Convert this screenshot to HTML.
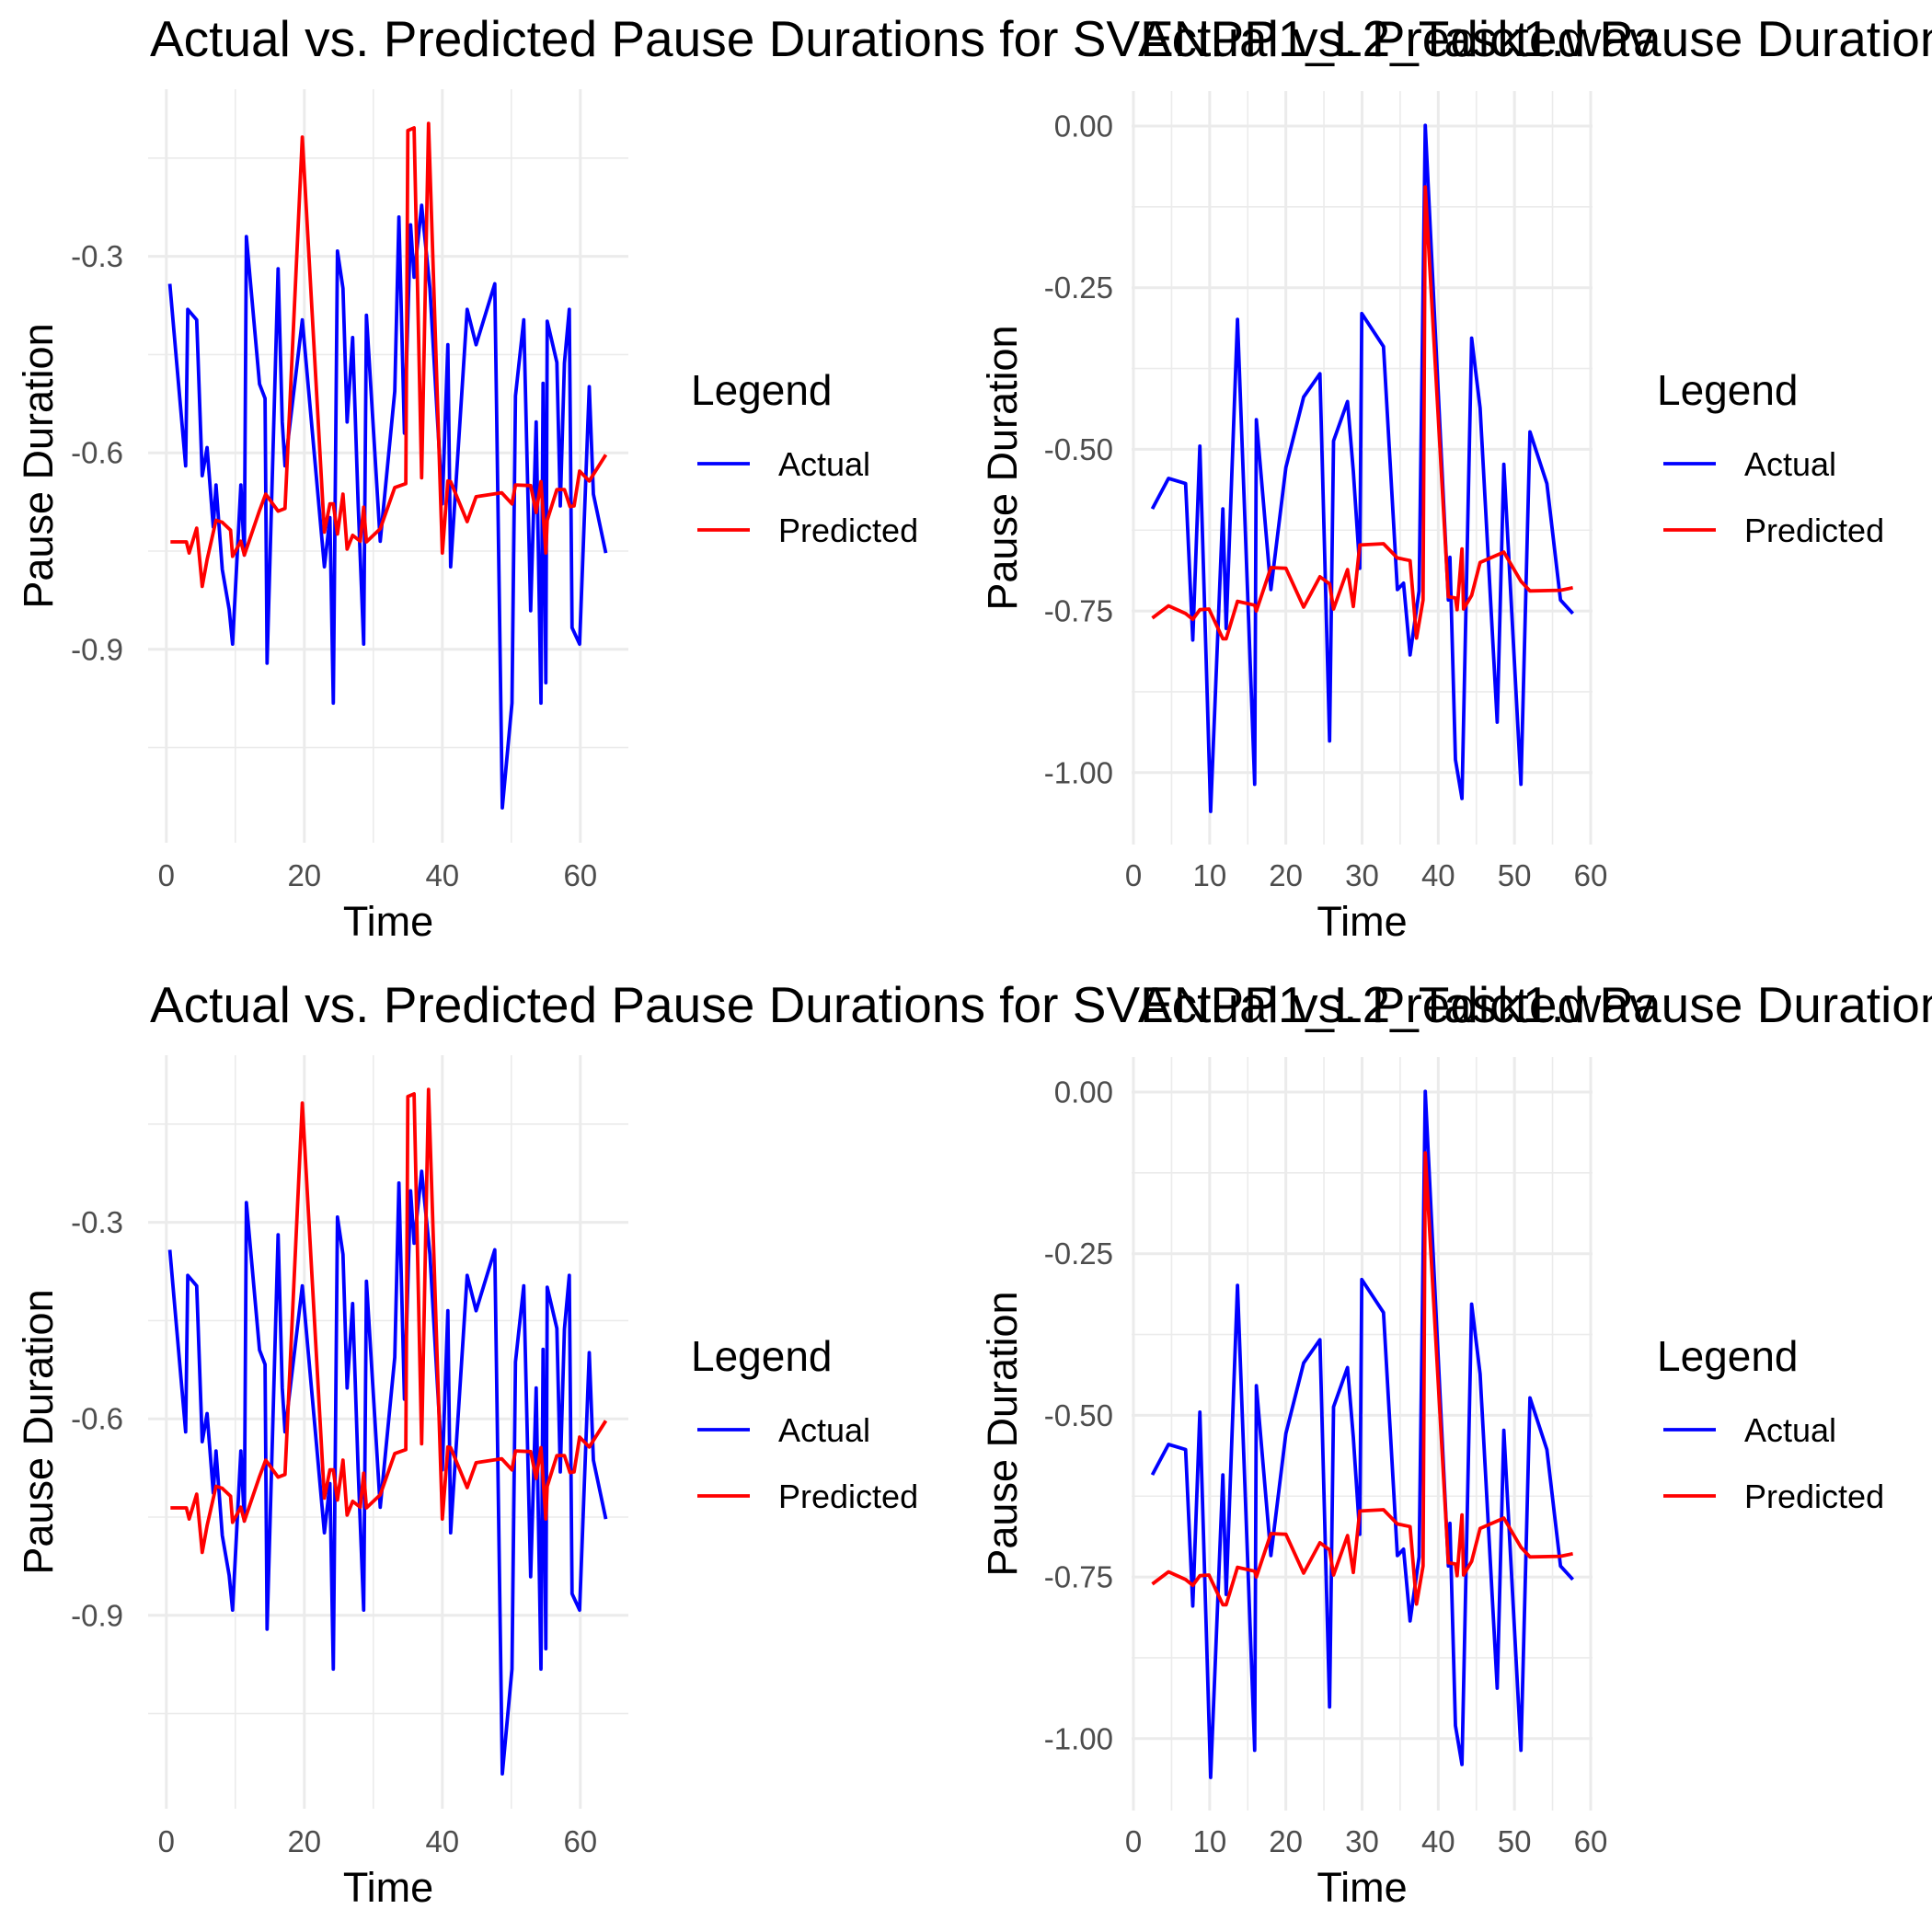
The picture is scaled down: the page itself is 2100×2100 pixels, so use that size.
<!DOCTYPE html>
<html><head><meta charset="utf-8"><style>
html,body{margin:0;padding:0;background:#fff;}
svg{display:block;font-family:"Liberation Sans",Arial,sans-serif;}
</style></head><body>
<svg id="chart" width="2100" height="2100" viewBox="0 0 2100 2100" xmlns="http://www.w3.org/2000/svg"></svg>
<script>
// ---- Data: left panels ----
const leftActualTime = [0.5,2.8,3.1,4.4,5.2,5.9,6.8,7.2,8.1,9.1,9.6,10.8,11.3,11.6,13.5,14.3,14.6,16.2,16.8,17.2,19.7,22.9,23.7,24.2,24.8,25.6,26.2,27.0,27.8,28.6,29.0,31.0,33.1,33.7,34.5,35.4,35.9,37.0,38.2,40.0,40.8,41.2,43.6,44.9,47.6,48.7,50.1,50.6,51.8,52.8,53.6,54.3,54.6,55.0,55.2,56.6,57.1,57.7,58.4,58.8,59.9,61.3,61.9,63.7];
const leftActualValues = [-0.342,-0.620,-0.381,-0.397,-0.635,-0.592,-0.713,-0.649,-0.778,-0.839,-0.892,-0.649,-0.756,-0.270,-0.495,-0.517,-0.921,-0.319,-0.553,-0.620,-0.397,-0.774,-0.699,-0.982,-0.292,-0.349,-0.553,-0.424,-0.678,-0.892,-0.390,-0.735,-0.506,-0.240,-0.570,-0.252,-0.332,-0.222,-0.349,-0.678,-0.435,-0.774,-0.381,-0.435,-0.342,-1.142,-0.982,-0.513,-0.397,-0.841,-0.553,-0.982,-0.494,-0.951,-0.399,-0.462,-0.681,-0.463,-0.381,-0.867,-0.892,-0.499,-0.663,-0.753];
const leftPredTime = [0.6,2.9,3.3,4.4,5.2,5.9,7.2,8.1,9.3,9.6,10.8,11.3,13.5,14.4,16.2,17.2,19.7,22.9,23.7,24.2,24.8,25.6,26.2,27.0,28.1,28.6,29.0,31.0,33.1,34.7,35.0,35.9,37.0,38.0,40.0,40.8,41.2,43.6,44.9,48.6,50.1,50.6,52.8,53.6,54.3,55.0,55.2,56.6,57.7,58.5,59.1,59.9,61.3,63.7];
const leftPredValues = [-0.736,-0.736,-0.753,-0.715,-0.804,-0.763,-0.703,-0.706,-0.718,-0.758,-0.735,-0.756,-0.688,-0.663,-0.689,-0.685,-0.118,-0.721,-0.678,-0.678,-0.724,-0.663,-0.747,-0.726,-0.735,-0.683,-0.736,-0.716,-0.653,-0.647,-0.108,-0.104,-0.638,-0.097,-0.753,-0.643,-0.644,-0.705,-0.667,-0.661,-0.678,-0.649,-0.650,-0.691,-0.644,-0.753,-0.703,-0.656,-0.656,-0.682,-0.681,-0.628,-0.643,-0.603];
const leftXTicks = [0,20,40,60];
const leftXMinor = [10,30,50];
const leftYTicks = [-0.3,-0.6,-0.9];
const leftYTickLabels = ["-0.3","-0.6","-0.9"];
const leftYMinor = [-0.15,-0.45,-0.75,-1.05];

// ---- Data: right panels ----
const rightActualTime = [2.47,4.6,6.85,7.79,8.72,10.13,11.74,12.17,13.66,15.91,16.13,18.04,20.0,22.34,24.47,25.74,26.26,28.09,28.85,29.7,29.96,32.81,34.64,35.45,36.3,37.49,38.3,41.32,41.53,42.26,43.11,44.38,45.49,47.74,48.6,50.85,52.04,54.26,56.04,57.66];
const rightActualValues = [-0.592,-0.545,-0.553,-0.795,-0.495,-1.060,-0.592,-0.777,-0.299,-1.018,-0.454,-0.717,-0.528,-0.419,-0.383,-0.951,-0.487,-0.426,-0.534,-0.684,-0.290,-0.341,-0.717,-0.707,-0.818,-0.719,0.001,-0.733,-0.667,-0.980,-1.040,-0.328,-0.436,-0.922,-0.523,-1.018,-0.473,-0.553,-0.733,-0.754];
const rightPredTime = [2.47,4.6,6.85,7.79,8.72,9.91,11.74,12.17,13.66,15.91,16.13,18.04,20.0,22.34,24.47,25.74,26.26,28.09,28.85,29.7,32.81,34.64,36.3,37.15,38.0,38.3,41.32,42.26,42.47,43.11,43.32,44.38,45.49,48.6,50.85,52.04,56.04,57.66];
const rightPredValues = [-0.761,-0.742,-0.754,-0.763,-0.748,-0.747,-0.793,-0.793,-0.735,-0.741,-0.750,-0.683,-0.684,-0.744,-0.697,-0.708,-0.747,-0.686,-0.743,-0.648,-0.646,-0.668,-0.672,-0.792,-0.733,-0.094,-0.728,-0.730,-0.748,-0.654,-0.747,-0.726,-0.675,-0.659,-0.704,-0.719,-0.718,-0.714];
const rightXTicks = [0,10,20,30,40,50,60];
const rightXMinor = [5,15,25,35,45,55];
const rightYTicks = [0,-0.25,-0.5,-0.75,-1.0];
const rightYTickLabels = ["0.00","-0.25","-0.50","-0.75","-1.00"];
const rightYMinor = [-0.125,-0.375,-0.625,-0.875];

const titleText = "Actual vs. Predicted Pause Durations for SVENPP1_L2_Task1.wav";

const NS = "http://www.w3.org/2000/svg";
const svg = document.getElementById('chart');
function mk(tag, attrs, parent){
  const e = document.createElementNS(NS, tag);
  for (const k in attrs) e.setAttribute(k, attrs[k]);
  (parent||svg).appendChild(e);
  return e;
}

function panel(cfg, dy, idx){
  const g = mk('g', {transform:'translate(0,'+dy+')'});
  
  
  const sx = v => cfg.x0 + (v - cfg.xv0) * cfg.xk;
  const sy = v => cfg.y0 + (cfg.yv0 - v) * cfg.yk;
  const grid = mk('g', {}, g);
  
  
  cfg.yMinor.forEach(v => { mk('line', {x1:cfg.pl, x2:cfg.pr, y1:sy(v), y2:sy(v), stroke:'#EBEBEB', 'stroke-width':1.6}, grid); });
  cfg.xMinor.forEach(v => { mk('line', {x1:sx(v), x2:sx(v), y1:cfg.pt, y2:cfg.pb, stroke:'#EBEBEB', 'stroke-width':1.6}, grid); });
  cfg.yTicks.forEach(v => { mk('line', {x1:cfg.pl, x2:cfg.pr, y1:sy(v), y2:sy(v), stroke:'#EBEBEB', 'stroke-width':3}, grid); });
  cfg.xTicks.forEach(v => { mk('line', {x1:sx(v), x2:sx(v), y1:cfg.pt, y2:cfg.pb, stroke:'#EBEBEB', 'stroke-width':3}, grid); });
  cfg.yTicks.forEach((v,i) => {
    const t = mk('text', {x:cfg.ylabX, y:sy(v)+11.5, 'text-anchor':'end', 'font-size':33, fill:'#4D4D4D'}, g);
    
    
    t.textContent = cfg.yLabels[i];
  });
  cfg.xTicks.forEach(v => {
    const t = mk('text', {x:sx(v), y:963, 'text-anchor':'middle', 'font-size':33, fill:'#4D4D4D'}, g);
    
    
    t.textContent = String(v);
  });
  const series = [[cfg.at, cfg.av, '#0000FF', 'actual-line'], [cfg.pt2, cfg.pv, '#FF0000', 'predicted-line']];
  series.forEach(s => {
    const d = s[0].map((t,i) => (i?'L':'M') + sx(t).toFixed(1) + ' ' + sy(s[1][i]).toFixed(1)).join(' ');
    const p = mk('path', {d:d, fill:'none', stroke:s[2], 'stroke-width':3.8, 'stroke-linejoin':'round'}, g);
    
    
  });
  const xt = mk('text', {x:(cfg.pl+cfg.pr)/2, y:1017, 'text-anchor':'middle', 'font-size':45, fill:'#000'}, g);
  
  
  xt.textContent = 'Time';
  const ytx = cfg.ytitleX, yty = (cfg.pt+cfg.pb)/2;
  const yt = mk('text', {x:ytx, y:yty, 'text-anchor':'middle', 'font-size':45, fill:'#000', transform:'rotate(-90 '+ytx+' '+yty+')'}, g);
  
  
  yt.textContent = 'Pause Duration';
  const lg = mk('g', {}, g);
  
  
  const lt = mk('text', {x:cfg.legX, y:440, 'font-size':46, fill:'#000'}, lg);
  
  
  lt.textContent = 'Legend';
  [['Actual','#0000FF',504],['Predicted','#FF0000',576]].forEach(e => {
    const ln = mk('line', {x1:cfg.legX+7, x2:cfg.legX+64, y1:e[2], y2:e[2], stroke:e[1], 'stroke-width':3.8}, lg);
    
    
    const tx = mk('text', {x:cfg.legX+95, y:e[2]+13, 'font-size':36, fill:'#000'}, lg);
    
    
    tx.textContent = e[0];
  });
  const ti = mk('text', {x:cfg.titleX, y:61, 'font-size':55, fill:'#000'}, g);
  
  
  ti.textContent = titleText;
}

const leftCfg = {x0:180.8, xv0:0, xk:7.5, y0:278.6, yv0:-0.3, yk:712,
  pl:161, pr:683, pt:97, pb:916, xTicks:leftXTicks, xMinor:leftXMinor, yTicks:leftYTicks, yLabels:leftYTickLabels, yMinor:leftYMinor,
  at:leftActualTime, av:leftActualValues, pt2:leftPredTime, pv:leftPredValues, ylabX:134, ytitleX:57, legX:751, titleX:163};
const rightCfg = {x0:1232, xv0:0, xk:8.283, y0:137, yv0:0, yk:702.8,
  pl:1230, pr:1731, pt:99, pb:918, xTicks:rightXTicks, xMinor:rightXMinor, yTicks:rightYTicks, yLabels:rightYTickLabels, yMinor:rightYMinor,
  at:rightActualTime, av:rightActualValues, pt2:rightPredTime, pv:rightPredValues, ylabX:1210, ytitleX:1105, legX:1801, titleX:1237};

panel(leftCfg, 0, 'top-left');
panel(rightCfg, 0, 'top-right');
panel(leftCfg, 1050, 'bottom-left');
panel(rightCfg, 1050, 'bottom-right');
</script>
</body></html>
